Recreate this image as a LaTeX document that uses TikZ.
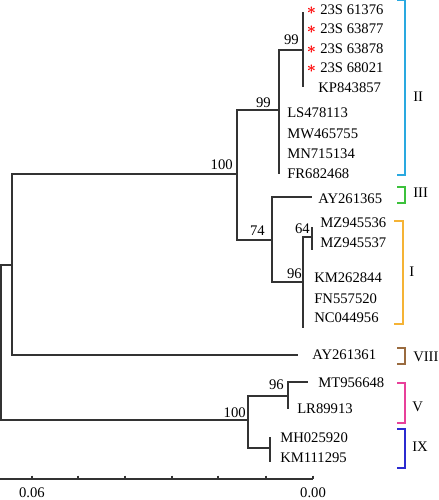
\documentclass[tikz,border=0pt]{standalone}
\usepackage{fontspec}
\setmainfont{Liberation Serif}
\definecolor{cII}{HTML}{2AA9E0}
\definecolor{cIII}{HTML}{3CC13C}
\definecolor{cI}{HTML}{F5B335}
\definecolor{cVIII}{HTML}{9A6B3F}
\definecolor{cV}{HTML}{E8409A}
\definecolor{cIX}{HTML}{2B2BD0}
\definecolor{tree}{HTML}{333333}
\begin{document}
\begin{tikzpicture}[x=0.75pt,y=-0.75pt,
  br/.style={line width=0.95pt,draw=tree},
  lf/.style={anchor=west,inner sep=0pt,font=\fontsize{11}{13}\selectfont},
  bs/.style={anchor=south east,inner sep=0pt,font=\fontsize{11}{13}\selectfont},
  cl/.style={anchor=west,inner sep=0pt,font=\fontsize{11}{13}\selectfont},
  brk/.style={line width=1pt},
  ast/.style={inner sep=0pt,text=red,font=\fontsize{12}{13}\selectfont\boldmath}]
\useasboundingbox (0,0) rectangle (439,500);
% internal nodes
\coordinate (r) at (1,342);
\coordinate (A) at (12,265);
\coordinate (B) at (237,174);
\coordinate (C) at (279,110);
\coordinate (Cb) at (279,174);
\coordinate (E) at (303,50);
\coordinate (Et) at (303,12);
\coordinate (Eb) at (303,87);
\coordinate (D) at (272,240);
\coordinate (F) at (303,282);
\coordinate (Fb) at (303,328);
\coordinate (G) at (312,237);
\coordinate (Gt) at (312,227);
\coordinate (Gb) at (312,250);
\coordinate (H) at (248,420);
\coordinate (J) at (288,396);
\coordinate (Jb) at (288,409);
\coordinate (K) at (270,448);
\coordinate (Kt) at (270,437);
\coordinate (Kb) at (270,462);
\coordinate (l8) at (298,355);
\coordinate (l3) at (312,197);
\coordinate (l5) at (308,382);
% branches
\draw[br] (r) |- (A);
\draw[br] (r) |- (H);
\draw[br] (A) |- (B);
\draw[br] (A) |- (l8);
\draw[br] (B) |- (C);
\draw[br] (B) |- (D);
\draw[br] (C) |- (E);
\draw[br] (C) -- (Cb);
\draw[br] (Et) -- (Eb);
\draw[br] (D) |- (l3);
\draw[br] (D) |- (F);
\draw[br] (F) |- (G);
\draw[br] (F) -- (Fb);
\draw[br] (Gt) -- (Gb);
\draw[br] (H) |- (J);
\draw[br] (H) |- (K);
\draw[br] (J) |- (l5);
\draw[br] (J) -- (Jb);
\draw[br] (Kt) -- (Kb);
% asterisks
\node[ast] (s1) at (311.5,11) {$\ast$};
\node[ast] (s2) at (311.5,30) {$\ast$};
\node[ast] (s3) at (311.5,50) {$\ast$};
\node[ast] (s4) at (311.5,69) {$\ast$};
% leaves
\node[lf] (t1) at (320,9.5) {23S 61376};
\node[lf] (t2) at (320,29) {23S 63877};
\node[lf] (t3) at (320,49) {23S 63878};
\node[lf] (t4) at (320,68) {23S 68021};
\node[lf] (t5) at (318,88) {KP843857};
\node[lf] (t6) at (287,113) {LS478113};
\node[lf] (t7) at (287,134) {MW465755};
\node[lf] (t8) at (287,154) {MN715134};
\node[lf] (t9) at (287,174) {FR682468};
\node[lf] (t10) at (318,199) {AY261365};
\node[lf] (t11) at (320,223) {MZ945536};
\node[lf] (t12) at (320,243) {MZ945537};
\node[lf] (t13) at (314,278) {KM262844};
\node[lf] (t14) at (314,299) {FN557520};
\node[lf] (t15) at (314,318) {NC044956};
\node[lf] (t16) at (312,355) {AY261361};
\node[lf] (t17) at (318,383) {MT956648};
\node[lf] (t18) at (297,409) {LR89913};
\node[lf] (t19) at (280,438) {MH025920};
\node[lf] (t20) at (280,458) {KM111295};
% bootstrap
\node[bs] (b1) at (233,170) {100};
\node[bs] (b2) at (271,108) {99};
\node[bs] (b3) at (299,45) {99};
\node[bs] (b4) at (265,236) {74};
\node[bs] (b5) at (310,234) {64};
\node[bs] (b6) at (302,279) {96};
\node[bs] (b7) at (246,418) {100};
\node[bs] (b8) at (284,390) {96};
% brackets
\draw[brk,cII] (397,0) -- (405,0) -- (405,175) -- (397,175);
\node[cl] (gII) at (413,97) {II};
\draw[brk,cIII] (397,187) -- (405,187) -- (405,203) -- (397,203);
\node[cl] (gIII) at (413,193) {III};
\draw[brk,cI] (394,221) -- (403,221) -- (403,324) -- (394,324);
\node[cl] (gI) at (409,272) {I};
\draw[brk,cVIII] (397,348) -- (405,348) -- (405,364) -- (397,364);
\node[cl] (gVIII) at (413,357) {VIII};
\draw[brk,cV] (397,383) -- (405,383) -- (405,423) -- (397,423);
\node[cl] (gV) at (412,407) {V};
\draw[brk,cIX] (397,429) -- (405,429) -- (405,468) -- (397,468);
\node[cl] (gIX) at (412,447) {IX};
% scale bar
\coordinate (s0) at (0,479);
\coordinate (s1e) at (313,479);
\draw[br] (s0) -- (s1e);
\foreach \x in {32,78,125,172,218,266,313} \draw[br] (\x,475.5) -- (\x,479);
\node[inner sep=0pt,font=\fontsize{11}{13}\selectfont] (sl1) at (32,493) {0.06};
\node[inner sep=0pt,font=\fontsize{11}{13}\selectfont] (sl2) at (313,493) {0.00};
\end{tikzpicture}
\end{document}
